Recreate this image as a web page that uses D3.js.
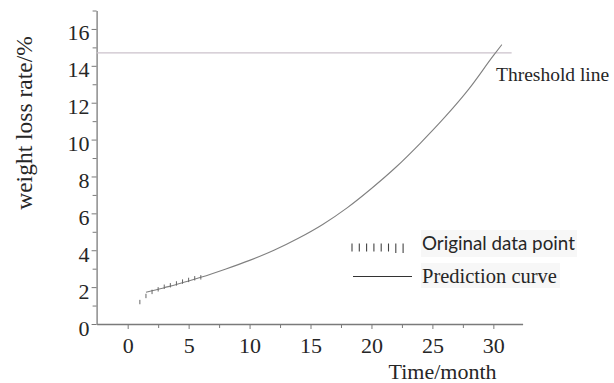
<!DOCTYPE html>
<html>
<head>
<meta charset="utf-8">
<script src="https://cdn.jsdelivr.net/npm/d3@7"></script>
<style>
  body { margin: 0; background: #fff; }
  svg { display: block; }
</style>
</head>
<body>
<svg id="chart" width="614" height="383"></svg>
<script>
// values
const dataMonths = [1, 1.5, 2, 2.5, 3, 3.5, 4, 4.5, 5, 5.5, 6];
const dataRates = [1.19, 1.52, 1.74, 1.88, 2.02, 2.1, 2.2, 2.3, 2.39, 2.48, 2.53];

const curveMonths = [1.5, 2, 3, 4, 5, 6, 8, 10, 12, 14, 16, 18, 20, 22, 24, 26, 28, 30, 30.7];
const curveRates = [1.72, 1.8, 1.97, 2.14, 2.33, 2.53, 2.97, 3.45, 4.0, 4.65, 5.4, 6.3, 7.35, 8.5, 9.8, 11.2, 12.75, 14.55, 15.15];

const thresholdRate = 14.7;
const thresholdSpan = [-2.55, 31.5];

const xTicks = [0, 5, 10, 15, 20, 25, 30];
const xMinorTicks = [2.5, 7.5, 12.5, 17.5, 22.5, 27.5];
const yTicks = [0, 2, 4, 6, 8, 10, 12, 14, 16];
const yMinorTicks = [1, 3, 5, 7, 9, 11, 13, 15, 17];

const xTitle = "Time/month";
const yTitle = "weight loss rate/%";
const thresholdLabel = "Threshold line";
const legendLabels = ["Original data point", "Prediction curve"];

const serif = '"Liberation Serif", "DejaVu Serif", serif';
const sans = 'Lato, "Open Sans", sans-serif';
const textColor = "#262626";
const axisColor = "#7a7a7a";

const svg = d3.select("#chart");

const x = d3.scaleLinear().domain([-2.55, 32.4]).range([96.6, 522.6]);
const y = d3.scaleLinear().domain([0, 17]).range([324, 10.5]);

// minor ticks first, so the main axes sit on top
const xMinorG = svg.append("g").attr("transform", `translate(0,${y(0)})`)
  .call(d3.axisBottom(x).tickValues(xMinorTicks).tickSize(4).tickFormat(""));
xMinorG.select(".domain").remove();
xMinorG.selectAll("line").attr("stroke", axisColor);

const yMinorG = svg.append("g").attr("transform", `translate(${x(-2.55)},0)`)
  .call(d3.axisLeft(y).tickValues(yMinorTicks).tickSize(4).tickFormat(""));
yMinorG.select(".domain").remove();
yMinorG.selectAll("line").attr("stroke", axisColor);

const xAxisG = svg.append("g").attr("transform", `translate(0,${y(0)})`)
  .call(d3.axisBottom(x).tickValues(xTicks).tickSize(5).tickSizeOuter(0).tickPadding(8));

const yAxisG = svg.append("g").attr("transform", `translate(${x(-2.55)},0)`)
  .call(d3.axisLeft(y).tickValues(yTicks).tickSize(5).tickSizeOuter(0).tickPadding(2));
yAxisG.selectAll(".tick text").attr("dy", "0.5em");

[xAxisG, yAxisG].forEach((g) => {
  g.attr("font-family", serif).attr("font-size", 22);
  g.select(".domain").attr("stroke", axisColor).attr("stroke-width", 1.3);
  g.selectAll(".tick line").attr("stroke", axisColor);
  g.selectAll(".tick text").attr("fill", textColor);
});

// threshold line
svg.append("line")
  .attr("x1", x(thresholdSpan[0]))
  .attr("x2", x(thresholdSpan[1]))
  .attr("y1", y(thresholdRate))
  .attr("y2", y(thresholdRate))
  .attr("stroke", "#cbc2cb")
  .attr("stroke-width", 1.2);

// prediction curve
const curvePoints = curveMonths.map((m, i) => ({ m, r: curveRates[i] }));
svg.append("path")
  .datum(curvePoints)
  .attr("fill", "none")
  .attr("stroke", "#808080")
  .attr("stroke-width", 1.1)
  .attr("d", d3.line().x((d) => x(d.m)).y((d) => y(d.r)).curve(d3.curveMonotoneX));

// original data points drawn as short vertical dashes
const dataPoints = dataMonths.map((m, i) => ({ m, r: dataRates[i] }));
svg.append("g")
  .selectAll("line")
  .data(dataPoints)
  .join("line")
  .attr("x1", (d) => x(d.m))
  .attr("x2", (d) => x(d.m))
  .attr("y1", (d) => y(d.r) - 2.2)
  .attr("y2", (d) => y(d.r) + 2.2)
  .attr("stroke", "#666")
  .attr("stroke-width", 1);

// titles
svg.append("text")
  .attr("x", 442.5)
  .attr("y", 379)
  .attr("text-anchor", "middle")
  .attr("font-family", serif)
  .attr("font-size", 22)
  .attr("fill", textColor)
  .text(xTitle);

svg.append("text")
  .attr("transform", "translate(32,123) rotate(-90)")
  .attr("text-anchor", "middle")
  .attr("font-family", serif)
  .attr("font-size", 23.5)
  .attr("fill", textColor)
  .text(yTitle);

svg.append("text")
  .attr("x", 496)
  .attr("y", 81)
  .attr("font-family", serif)
  .attr("font-size", 19.5)
  .attr("fill", textColor)
  .text(thresholdLabel);

// legend
const legend = svg.append("g");
legend.append("rect")
  .attr("x", 421).attr("y", 230).attr("width", 156).attr("height", 27)
  .attr("fill", "#f7f7f7");
legend.append("rect")
  .attr("x", 421).attr("y", 263).attr("width", 139).attr("height", 25)
  .attr("fill", "#f7f7f7");

legend.append("g")
  .selectAll("line")
  .data(d3.range(8))
  .join("line")
  .attr("x1", (i) => 352 + i * 7.3)
  .attr("x2", (i) => 352 + i * 7.3)
  .attr("y1", 243.5)
  .attr("y2", (i) => (i >= 6 ? 253 : 251.5))
  .attr("stroke", "#444")
  .attr("stroke-width", 1.1);

legend.append("text")
  .attr("x", 422)
  .attr("y", 250)
  .attr("font-family", sans)
  .attr("font-size", 18.8)
  .attr("fill", textColor)
  .text(legendLabels[0]);

legend.append("line")
  .attr("x1", 353).attr("x2", 412)
  .attr("y1", 276.5).attr("y2", 276.5)
  .attr("stroke", "#333").attr("stroke-width", 1.1);

legend.append("text")
  .attr("x", 422)
  .attr("y", 283)
  .attr("font-family", serif)
  .attr("font-size", 20.5)
  .attr("fill", textColor)
  .text(legendLabels[1]);
</script>
</body>
</html>
